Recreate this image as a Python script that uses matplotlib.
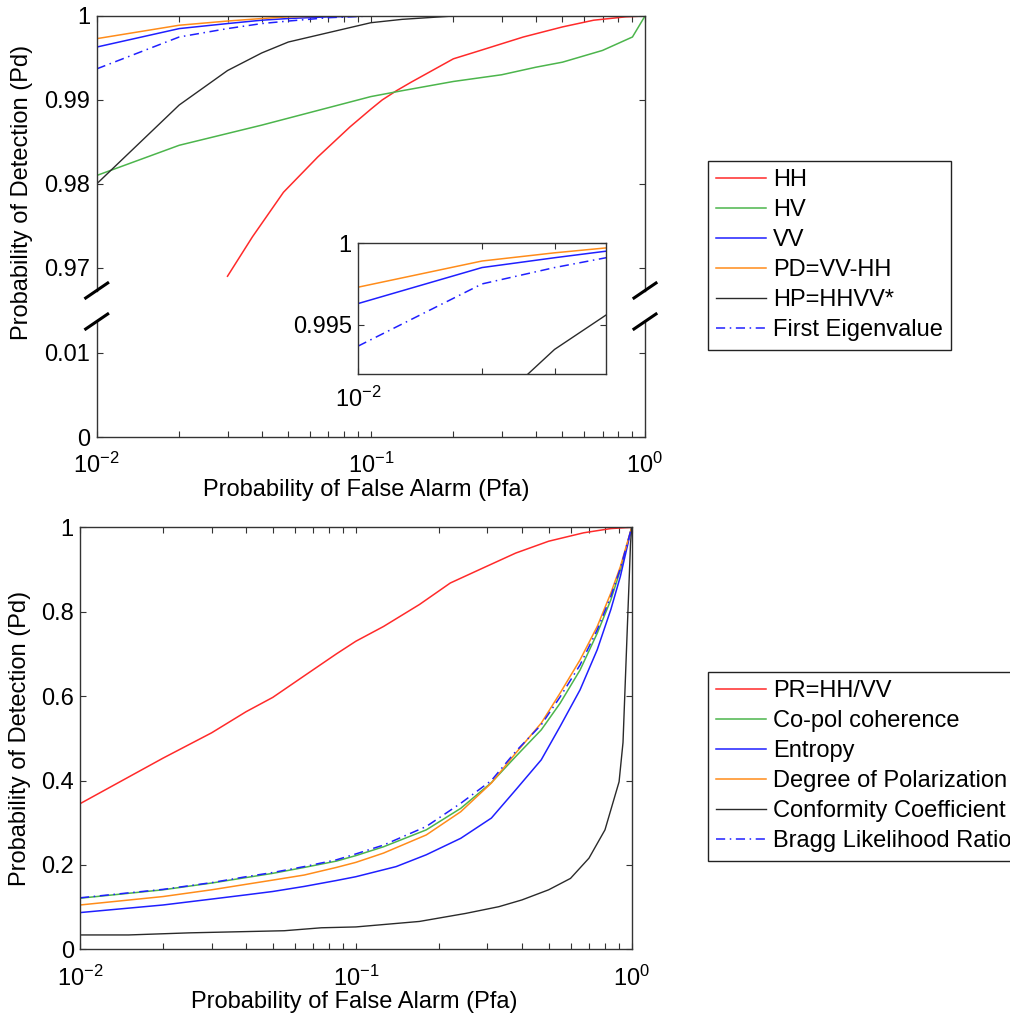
import numpy as np
import matplotlib
matplotlib.use("Agg")
import matplotlib.pyplot as plt
from matplotlib.lines import Line2D
from matplotlib.ticker import FixedLocator, NullFormatter

# ---- top panel: Pd close to 1 (broken y axis) ----
hh_x  = [0.03, 0.037, 0.048, 0.064, 0.084, 0.1, 0.11, 0.124, 0.14, 0.2, 0.24, 0.36, 0.5, 0.65, 0.85, 1.0]
hh_y  = [0.9690, 0.9737, 0.9790, 0.9832, 0.9868, 0.9889, 0.9900, 0.9911, 0.9921, 0.9949, 0.9957,
         0.9975, 0.9987, 0.9995, 0.9999, 1.0]
hv_x  = [0.01, 0.02, 0.04, 0.1, 0.13, 0.2, 0.3, 0.4, 0.5, 0.7, 0.9, 1.0]
hv_y  = [0.9810, 0.9846, 0.9870, 0.9904, 0.9911, 0.9922, 0.9930, 0.9939, 0.9945, 0.9959, 0.9975, 1.0]
vv_x  = [0.01, 0.02, 0.03, 0.04, 0.05, 0.07, 0.1, 1.0]
vv_y  = [0.9963, 0.9985, 0.9991, 0.9995, 0.9997, 0.9999, 1.0, 1.0]
pd_x  = [0.01, 0.02, 0.03, 0.04, 0.05, 0.07, 1.0]
pd_y  = [0.9973, 0.9989, 0.9994, 0.9997, 0.9999, 1.0, 1.0]
hp_x  = [0.01, 0.02, 0.03, 0.04, 0.05, 0.1, 0.13, 0.2, 1.0]
hp_y  = [0.9800, 0.9894, 0.9935, 0.9956, 0.9969, 0.9992, 0.9996, 1.0, 1.0]
eig_x = [0.01, 0.02, 0.03, 0.04, 0.05, 0.07, 0.1, 1.0]
eig_y = [0.9937, 0.9975, 0.9985, 0.9991, 0.9994, 0.9998, 1.0, 1.0]
top_labels = ["HH", "HV", "VV", "PD=VV-HH", "HP=HHVV*", "First Eigenvalue"]

# ---- bottom panel: full Pd range ----
pr_x  = [0.01, 0.02, 0.03, 0.04, 0.05, 0.065, 0.085, 0.1, 0.126, 0.17, 0.22, 0.29, 0.38, 0.5, 0.67, 0.84, 1.0]
pr_y  = [0.345, 0.453, 0.513, 0.563, 0.597, 0.648, 0.700, 0.730, 0.765, 0.817, 0.868, 0.904, 0.939,
         0.967, 0.987, 0.997, 1.0]
coh_x = [0.01, 0.02, 0.03, 0.04, 0.05, 0.065, 0.085, 0.1, 0.126, 0.18, 0.24, 0.31, 0.38, 0.47, 0.55,
         0.65, 0.75, 0.84, 0.91, 1.0]
coh_y = [0.121, 0.141, 0.157, 0.170, 0.180, 0.194, 0.209, 0.222, 0.243, 0.283, 0.334, 0.395, 0.457,
         0.520, 0.583, 0.662, 0.749, 0.828, 0.899, 1.0]
ent_x = [0.01, 0.02, 0.03, 0.04, 0.05, 0.065, 0.085, 0.1, 0.14, 0.18, 0.24, 0.31, 0.38, 0.47, 0.55,
         0.65, 0.75, 0.84, 0.91, 1.0]
ent_y = [0.087, 0.105, 0.119, 0.129, 0.137, 0.149, 0.163, 0.172, 0.196, 0.224, 0.263, 0.311, 0.378,
         0.449, 0.528, 0.615, 0.710, 0.805, 0.884, 1.0]
dop_x = [0.01, 0.02, 0.03, 0.04, 0.05, 0.065, 0.085, 0.1, 0.126, 0.18, 0.24, 0.31, 0.38, 0.47, 0.55,
         0.65, 0.75, 0.84, 0.91, 1.0]
dop_y = [0.105, 0.125, 0.141, 0.154, 0.164, 0.176, 0.194, 0.206, 0.228, 0.271, 0.326, 0.394, 0.465,
         0.536, 0.607, 0.686, 0.765, 0.844, 0.907, 1.0]
cc_x  = [0.01, 0.015, 0.025, 0.055, 0.075, 0.1, 0.17, 0.25, 0.33, 0.4, 0.5, 0.6, 0.7, 0.8, 0.9,
         0.93, 0.96, 0.99, 1.0]
cc_y  = [0.034, 0.034, 0.039, 0.044, 0.051, 0.053, 0.066, 0.085, 0.101, 0.117, 0.141, 0.168, 0.216,
         0.283, 0.397, 0.490, 0.730, 0.960, 1.0]
blr_x = [0.01, 0.02, 0.03, 0.04, 0.05, 0.065, 0.085, 0.1, 0.126, 0.18, 0.24, 0.31, 0.38, 0.47, 0.55,
         0.65, 0.75, 0.84, 0.91, 1.0]
blr_y = [0.122, 0.142, 0.158, 0.172, 0.182, 0.196, 0.212, 0.226, 0.247, 0.291, 0.346, 0.400, 0.469,
         0.532, 0.598, 0.674, 0.757, 0.836, 0.903, 1.0]
bot_labels = ["PR=HH/VV", "Co-pol coherence", "Entropy", "Degree of Polarization",
              "Conformity Coefficient", "Bragg Likelihood Ratio"]

RED, GRN, BLU = "#ff2a2a", "#4cb54c", "#1f1fff"
ORG, BLK = "#ff8c1a", "#2a2a2a"
DASHDOT = (0, (6, 3, 1, 3))
SPINE = "#333333"

plt.rcParams["font.family"] = ["Liberation Sans", "DejaVu Sans"]
plt.rcParams["font.size"] = 17
plt.rcParams["mathtext.fontset"] = "custom"
plt.rcParams["mathtext.rm"] = "Liberation Sans"
plt.rcParams["mathtext.default"] = "regular"

W, H = 1010, 1016
fig = plt.figure(figsize=(W / 100, H / 100), dpi=100)


def box(x0, y0, x1, y1):
    # pixel box (top-left origin) -> figure fraction rect
    return [x0 / W, 1 - y1 / H, (x1 - x0) / W, (y1 - y0) / H]


def style(ax, xpad=4):
    ax.set_xscale("log")
    ax.set_xlim(0.01, 1)
    for sp in ax.spines.values():
        sp.set_color(SPINE); sp.set_linewidth(1.0)
    ax.tick_params(which="both", direction="in", length=4, width=0.8, color=SPINE,
                   top=True, right=True)
    ax.tick_params(axis="y", pad=4.5)
    ax.tick_params(axis="x", pad=xpad)
    ax.xaxis.set_major_locator(FixedLocator([0.01, 0.1, 1]))
    ax.set_xticklabels([r"$10^{-2}$", r"$10^{-1}$", r"$10^{0}$"])
    ax.xaxis.set_minor_locator(FixedLocator([k * 10.0 ** e for e in (-2, -1) for k in range(2, 10)]))
    ax.xaxis.set_minor_formatter(NullFormatter())


def top_lines(ax):
    h = []
    h += ax.plot(hh_x, hh_y, color=RED, lw=1.1)
    h += ax.plot(hv_x, hv_y, color=GRN, lw=1.1)
    h += ax.plot(vv_x, vv_y, color=BLU, lw=1.1)
    h += ax.plot(pd_x, pd_y, color=ORG, lw=1.1)
    h += ax.plot(hp_x, hp_y, color=BLK, lw=1.0)
    h += ax.plot(eig_x, eig_y, color=BLU, lw=1.1, ls=DASHDOT)
    return h


# upper part of the broken axis
ax_u = fig.add_axes(box(96.7, 16, 645, 290.5))
style(ax_u)
handles = top_lines(ax_u)
ax_u.set_ylim(0.9673, 1.0)
ax_u.set_yticks([0.97, 0.98, 0.99, 1.0])
ax_u.set_yticklabels(["0.97", "0.98", "0.99", "1"])
ax_u.spines["bottom"].set_visible(False)
ax_u.tick_params(which="both", bottom=False, labelbottom=False)

# lower part
ax_l = fig.add_axes(box(96.7, 321.5, 645, 437))
style(ax_l, xpad=11)
top_lines(ax_l)
ax_l.set_ylim(0, 0.01368)
ax_l.set_yticks([0, 0.01])
ax_l.set_yticklabels(["0", "0.01"])
ax_l.spines["top"].set_visible(False)
ax_l.tick_params(which="both", top=False)

# break marks
for cx in (96.7, 645):
    for cy in (290.5, 321.5):
        fig.add_artist(Line2D([(cx - 11) / W, (cx + 11) / W],
                              [1 - (cy + 7.5) / H, 1 - (cy - 7.5) / H],
                              color="k", lw=2.2))

# inset zoom
ax_i = fig.add_axes(box(358, 243, 606, 374))
top_lines(ax_i)
ax_i.set_xscale("log")
ax_i.set_xlim(0.01, 0.04)
ax_i.set_ylim(0.992, 1.0)
for sp in ax_i.spines.values():
    sp.set_color(SPINE); sp.set_linewidth(1.0)
ax_i.xaxis.set_major_locator(FixedLocator([0.01]))
ax_i.set_xticklabels([r"$10^{-2}$"])
ax_i.xaxis.set_minor_locator(FixedLocator([0.02, 0.03]))
ax_i.xaxis.set_minor_formatter(NullFormatter())
ax_i.set_yticks([0.995, 1.0])
ax_i.set_yticklabels(["0.995", "1"])
ax_i.tick_params(which="both", direction="in", length=4, width=0.8, color=SPINE,
                 top=True, right=True)
ax_i.tick_params(axis="y", pad=4.5)
ax_i.tick_params(axis="x", pad=9)

fig.text(22 / W, 1 - 192 / H, "Probability of Detection (Pd)", rotation=90,
         ha="center", va="center")
fig.text(366 / W, 1 - 490 / H, "Probability of False Alarm (Pfa)", ha="center", va="center")

leg_kw = dict(loc="upper left", frameon=True, fancybox=False, framealpha=1,
              edgecolor="#222222", handlelength=2.1, handletextpad=0.3,
              labelspacing=0.34, borderpad=0.35, borderaxespad=0, fontsize=17)
lg = fig.legend(handles, top_labels, bbox_to_anchor=(708 / W, 1 - 161 / H), **leg_kw)
lg.get_frame().set_linewidth(1.0)

# ---- bottom panel ----
ax_b = fig.add_axes(box(80, 527.3, 631.7, 949.3))
style(ax_b, xpad=12)
hb = []
hb += ax_b.plot(pr_x, pr_y, color=RED, lw=1.1)
hb += ax_b.plot(coh_x, coh_y, color=GRN, lw=1.1)
hb += ax_b.plot(ent_x, ent_y, color=BLU, lw=1.1)
hb += ax_b.plot(dop_x, dop_y, color=ORG, lw=1.1)
hb += ax_b.plot(cc_x, cc_y, color=BLK, lw=1.0)
hb += ax_b.plot(blr_x, blr_y, color=BLU, lw=1.1, ls=DASHDOT)
ax_b.set_ylim(0, 1)
ax_b.set_yticks([0, 0.2, 0.4, 0.6, 0.8, 1.0])
ax_b.set_yticklabels(["0", "0.2", "0.4", "0.6", "0.8", "1"])

fig.text(20 / W, 1 - 738 / H, "Probability of Detection (Pd)", rotation=90,
         ha="center", va="center")
fig.text(354 / W, 1 - 1002 / H, "Probability of False Alarm (Pfa)", ha="center", va="center")

lg2 = fig.legend(hb, bot_labels, bbox_to_anchor=(708 / W, 1 - 672 / H), **leg_kw)
lg2.get_frame().set_linewidth(1.0)

fig.savefig("out.png", dpi=100, facecolor="white")
